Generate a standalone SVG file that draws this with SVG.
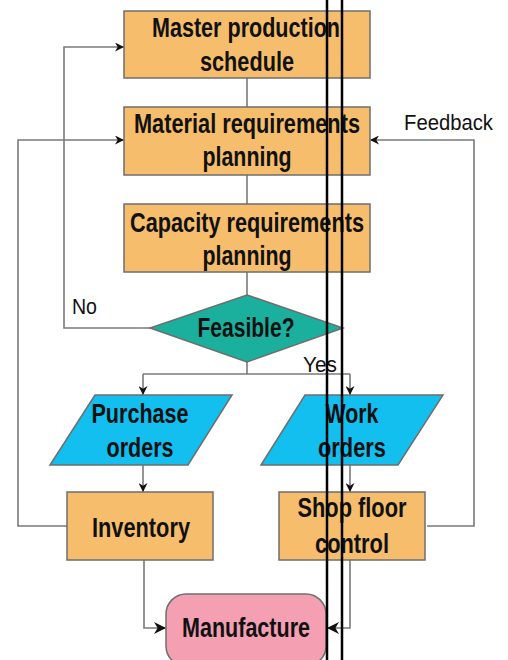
<svg xmlns="http://www.w3.org/2000/svg" width="508" height="660" viewBox="0 0 508 660">
<defs>
<marker id="ah" viewBox="0 0 10 10" refX="10" refY="5" markerWidth="10" markerHeight="9" markerUnits="userSpaceOnUse" orient="auto"><path d="M0,0 L10,5 L0,10 L3,5 Z" fill="#111"/></marker>
<marker id="ahL" viewBox="0 0 10 10" refX="10" refY="5" markerWidth="14" markerHeight="12" markerUnits="userSpaceOnUse" orient="auto"><path d="M0,0 L10,5 L0,10 L3,5 Z" fill="#111"/></marker>
</defs>
<style>
.box{fill:#F6BE6C;stroke:#6E6E6E;stroke-width:1.5}
.io{fill:#12BFEF;stroke:#6E6E6E;stroke-width:1.5}
.dec{fill:#1BB09E;stroke:#6E6E6E;stroke-width:1.5}
.term{fill:#F4A0B2;stroke:#6E6E6E;stroke-width:1.5}
.c{fill:none;stroke:#7A7A7A;stroke-width:1.6}
.t{font-family:"Liberation Sans Narrow","Arial Narrow","Liberation Sans",sans-serif;font-weight:bold;font-size:27px;fill:#111;text-anchor:middle}
.l{font-family:"Liberation Sans Narrow","Arial Narrow","Liberation Sans",sans-serif;font-size:22px;fill:#111}
</style>
<rect width="508" height="660" fill="#fff"/>
<g id="connectors">
<path class="c" d="M247,78 V107"/>
<path class="c" d="M247,175 V204"/>
<path class="c" d="M247,272 V295"/>
<path class="c" d="M150,328 H64 V47 H124" marker-end="url(#ah)"/>
<path class="c" d="M67,526 H18 V140 H124" marker-end="url(#ah)"/>
<path class="c" d="M427,526 H474 V140 H370" marker-end="url(#ah)"/>
<path class="c" d="M247,362 V374"/>
<path class="c" d="M143,374 H350"/>
<path class="c" d="M143,374 V395" marker-end="url(#ah)"/>
<path class="c" d="M350,374 V395" marker-end="url(#ah)"/>
<path class="c" d="M143,465 V492" marker-end="url(#ah)"/>
<path class="c" d="M350,465 V492" marker-end="url(#ah)"/>
<path class="c" d="M144,560 V628 H166" marker-end="url(#ahL)"/>
<path class="c" d="M350,560 V628 H327" marker-end="url(#ahL)"/>
<text class="l" x="72" y="314" textLength="25" lengthAdjust="spacingAndGlyphs">No</text>
<text class="l" x="303" y="372" textLength="34" lengthAdjust="spacingAndGlyphs">Yes</text>
<text class="l" x="404" y="130" textLength="89" lengthAdjust="spacingAndGlyphs">Feedback</text>
</g>
<g id="mps"><rect class="box" x="124" y="11" width="246" height="67"/><text class="t" x="246" y="37" textLength="188" lengthAdjust="spacingAndGlyphs">Master production</text><text class="t" x="247" y="71" textLength="94" lengthAdjust="spacingAndGlyphs">schedule</text></g>
<g id="mrp"><rect class="box" x="124" y="107" width="246" height="68"/><text class="t" x="247" y="133" textLength="226" lengthAdjust="spacingAndGlyphs">Material requirements</text><text class="t" x="247" y="166" textLength="89" lengthAdjust="spacingAndGlyphs">planning</text></g>
<g id="crp"><rect class="box" x="124" y="204" width="246" height="68"/><text class="t" x="247" y="232" textLength="234" lengthAdjust="spacingAndGlyphs">Capacity requirements</text><text class="t" x="247" y="265" textLength="89" lengthAdjust="spacingAndGlyphs">planning</text></g>
<g id="feasible"><polygon class="dec" points="247,295 343,328 247,362 150,328"/><text class="t" x="246" y="337" textLength="97" lengthAdjust="spacingAndGlyphs">Feasible?</text></g>
<g id="purchase"><polygon class="io" points="95,395 232,395 188,465 50,465"/><text class="t" x="140" y="423" textLength="97" lengthAdjust="spacingAndGlyphs">Purchase</text><text class="t" x="140" y="457" textLength="67" lengthAdjust="spacingAndGlyphs">orders</text></g>
<g id="work"><polygon class="io" points="305,395 443,395 398,465 261,465"/><text class="t" x="352" y="423" textLength="53" lengthAdjust="spacingAndGlyphs">Work</text><text class="t" x="352" y="457" textLength="68" lengthAdjust="spacingAndGlyphs">orders</text></g>
<g id="inventory"><rect class="box" x="67" y="492" width="146" height="68"/><text class="t" x="141" y="537" textLength="98" lengthAdjust="spacingAndGlyphs">Inventory</text></g>
<g id="shopfloor"><rect class="box" x="279" y="492" width="146" height="68"/><text class="t" x="352" y="517" textLength="109" lengthAdjust="spacingAndGlyphs">Shop floor</text><text class="t" x="352" y="553" textLength="74" lengthAdjust="spacingAndGlyphs">control</text></g>
<g id="manufacture"><rect class="term" x="166" y="594" width="160" height="72" rx="20"/><text class="t" x="246" y="637" textLength="128" lengthAdjust="spacingAndGlyphs">Manufacture</text></g>
<g id="overlay-lines">
<line x1="327" y1="0" x2="327" y2="660" stroke="#000" stroke-width="2.5"/>
<line x1="342" y1="0" x2="342" y2="660" stroke="#000" stroke-width="2.5"/>
</g>
</svg>
